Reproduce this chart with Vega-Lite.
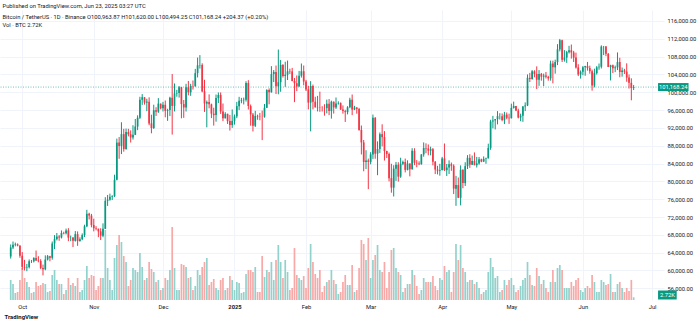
{
"$schema": "https://vega.github.io/schema/vega-lite/v6.json",
"width": 664, "height": 290,
"autosize": {"type": "none"},
"padding": {"left": 0, "top": 10, "right": 36, "bottom": 24},
"background": "#ffffff",
"config": {"view": {"stroke": null}, "font": "Roboto", "axis": {"labelOverlap": false}, "axisY": {"labelOverlap": false}, "axisRight": {"labelOverlap": false}},
"title": {"text": "Published on TradingView.com, Jun 23, 2025 03:27 UTC", "subtitle": ["Bitcoin / TetherUS · 1D · Binance O100,963.87 H101,620.00 L100,494.25 C101,168.24 +204.37 (+0.20%)", "Vol · BTC 2.72K"], "anchor": "start", "orient": "top", "offset": -18, "dx": 3, "fontSize": 5.8, "fontWeight": "normal", "color": "#131722", "subtitleFontSize": 5.8, "subtitleColor": "#131722", "subtitlePadding": 5, "subtitleLineHeight": 8, "font": "Roboto", "subtitleFont": "Roboto"},
"datasets": {"btc": [
{"d":"2024-09-26","o":63140,"h":65840,"l":62670,"c":65180,"v":20},
{"d":"2024-09-27","o":65180,"h":66500,"l":64800,"c":65770,"v":16},
{"d":"2024-09-28","o":65770,"h":66260,"l":65420,"c":65860,"v":7},
{"d":"2024-09-29","o":65860,"h":66080,"l":65420,"c":65600,"v":8},
{"d":"2024-09-30","o":65600,"h":65620,"l":62850,"c":63300,"v":20},
{"d":"2024-10-01","o":63300,"h":64130,"l":60160,"c":60800,"v":32},
{"d":"2024-10-02","o":60800,"h":62380,"l":60000,"c":60650,"v":22},
{"d":"2024-10-03","o":60650,"h":61470,"l":59830,"c":60750,"v":18},
{"d":"2024-10-04","o":60750,"h":62480,"l":60460,"c":62080,"v":13},
{"d":"2024-10-05","o":62080,"h":62370,"l":61670,"c":62060,"v":7},
{"d":"2024-10-06","o":62060,"h":62960,"l":61800,"c":62820,"v":8},
{"d":"2024-10-07","o":62820,"h":64480,"l":62130,"c":62220,"v":18},
{"d":"2024-10-08","o":62220,"h":63200,"l":61830,"c":62130,"v":14},
{"d":"2024-10-09","o":62130,"h":62540,"l":60300,"c":60580,"v":15},
{"d":"2024-10-10","o":60580,"h":61320,"l":58900,"c":60270,"v":17},
{"d":"2024-10-11","o":60270,"h":63400,"l":60050,"c":62450,"v":16},
{"d":"2024-10-12","o":62450,"h":63480,"l":62250,"c":63200,"v":8},
{"d":"2024-10-13","o":63200,"h":63290,"l":62060,"c":62850,"v":9},
{"d":"2024-10-14","o":62850,"h":66500,"l":62420,"c":66050,"v":25},
{"d":"2024-10-15","o":66050,"h":67950,"l":64800,"c":67040,"v":30},
{"d":"2024-10-16","o":67040,"h":68420,"l":66750,"c":67610,"v":20},
{"d":"2024-10-17","o":67610,"h":67940,"l":66660,"c":67400,"v":16},
{"d":"2024-10-18","o":67400,"h":68990,"l":67190,"c":68430,"v":16},
{"d":"2024-10-19","o":68430,"h":68700,"l":68110,"c":68360,"v":6},
{"d":"2024-10-20","o":68360,"h":69400,"l":68090,"c":69000,"v":10},
{"d":"2024-10-21","o":69000,"h":69500,"l":66570,"c":67370,"v":22},
{"d":"2024-10-22","o":67370,"h":67840,"l":66570,"c":67380,"v":15},
{"d":"2024-10-23","o":67380,"h":67470,"l":65260,"c":66650,"v":17},
{"d":"2024-10-24","o":66650,"h":68850,"l":66480,"c":68160,"v":14},
{"d":"2024-10-25","o":68160,"h":68770,"l":65520,"c":66640,"v":22},
{"d":"2024-10-26","o":66640,"h":67450,"l":66460,"c":67010,"v":8},
{"d":"2024-10-27","o":67010,"h":68320,"l":66800,"c":67940,"v":10},
{"d":"2024-10-28","o":67940,"h":70270,"l":67520,"c":69910,"v":20},
{"d":"2024-10-29","o":69910,"h":73620,"l":69730,"c":72720,"v":34},
{"d":"2024-10-30","o":72720,"h":72960,"l":71440,"c":72330,"v":22},
{"d":"2024-10-31","o":72330,"h":72700,"l":69690,"c":70220,"v":25},
{"d":"2024-11-01","o":70220,"h":71630,"l":68780,"c":69490,"v":24},
{"d":"2024-11-02","o":69490,"h":69950,"l":69020,"c":69370,"v":10},
{"d":"2024-11-03","o":69370,"h":69400,"l":67480,"c":68780,"v":14},
{"d":"2024-11-04","o":68780,"h":69480,"l":66840,"c":67810,"v":22},
{"d":"2024-11-05","o":67810,"h":70580,"l":67460,"c":69360,"v":22},
{"d":"2024-11-06","o":69360,"h":76460,"l":69320,"c":75640,"v":70},
{"d":"2024-11-07","o":75640,"h":76950,"l":74490,"c":75900,"v":32},
{"d":"2024-11-08","o":75900,"h":77250,"l":75660,"c":76540,"v":20},
{"d":"2024-11-09","o":76540,"h":76900,"l":75820,"c":76680,"v":10},
{"d":"2024-11-10","o":76680,"h":81500,"l":76500,"c":80370,"v":42},
{"d":"2024-11-11","o":80370,"h":89600,"l":80220,"c":88700,"v":55},
{"d":"2024-11-12","o":88700,"h":89950,"l":85070,"c":87960,"v":65},
{"d":"2024-11-13","o":87960,"h":93270,"l":86130,"c":90600,"v":58},
{"d":"2024-11-14","o":90600,"h":91800,"l":86670,"c":87250,"v":44},
{"d":"2024-11-15","o":87250,"h":91850,"l":87100,"c":91060,"v":38},
{"d":"2024-11-16","o":91060,"h":91800,"l":90100,"c":90560,"v":14},
{"d":"2024-11-17","o":90560,"h":91450,"l":88720,"c":89860,"v":20},
{"d":"2024-11-18","o":89860,"h":92600,"l":89380,"c":90460,"v":32},
{"d":"2024-11-19","o":90460,"h":94000,"l":90400,"c":92310,"v":30},
{"d":"2024-11-20","o":92310,"h":94830,"l":91500,"c":94290,"v":28},
{"d":"2024-11-21","o":94290,"h":98990,"l":94010,"c":98320,"v":47},
{"d":"2024-11-22","o":98320,"h":99590,"l":97170,"c":98890,"v":33},
{"d":"2024-11-23","o":98890,"h":98900,"l":97230,"c":97670,"v":20},
{"d":"2024-11-24","o":97670,"h":98550,"l":95750,"c":97900,"v":22},
{"d":"2024-11-25","o":97900,"h":98870,"l":92600,"c":93010,"v":38},
{"d":"2024-11-26","o":93010,"h":94970,"l":90790,"c":91970,"v":31},
{"d":"2024-11-27","o":91970,"h":97210,"l":91780,"c":95960,"v":28},
{"d":"2024-11-28","o":95960,"h":96650,"l":94680,"c":95640,"v":18},
{"d":"2024-11-29","o":95640,"h":98690,"l":95380,"c":97460,"v":20},
{"d":"2024-11-30","o":97460,"h":97460,"l":96150,"c":96410,"v":10},
{"d":"2024-12-01","o":96410,"h":97840,"l":95690,"c":97190,"v":12},
{"d":"2024-12-02","o":97190,"h":98150,"l":94390,"c":95840,"v":22},
{"d":"2024-12-03","o":95840,"h":96300,"l":93580,"c":96000,"v":20},
{"d":"2024-12-04","o":96000,"h":99000,"l":94660,"c":98770,"v":30},
{"d":"2024-12-05","o":98770,"h":104090,"l":90500,"c":96940,"v":73},
{"d":"2024-12-06","o":96940,"h":101980,"l":95700,"c":99740,"v":32},
{"d":"2024-12-07","o":99740,"h":100550,"l":99000,"c":99830,"v":10},
{"d":"2024-12-08","o":99830,"h":101400,"l":98800,"c":101110,"v":10},
{"d":"2024-12-09","o":101110,"h":101220,"l":94150,"c":97360,"v":36},
{"d":"2024-12-10","o":97360,"h":98270,"l":94260,"c":96590,"v":35},
{"d":"2024-12-11","o":96590,"h":101900,"l":95680,"c":101130,"v":33},
{"d":"2024-12-12","o":101130,"h":102540,"l":99310,"c":100000,"v":22},
{"d":"2024-12-13","o":100000,"h":101900,"l":99200,"c":101420,"v":23},
{"d":"2024-12-14","o":101420,"h":102650,"l":100610,"c":101370,"v":10},
{"d":"2024-12-15","o":101370,"h":105250,"l":101230,"c":104300,"v":14},
{"d":"2024-12-16","o":104300,"h":107790,"l":103330,"c":106060,"v":30},
{"d":"2024-12-17","o":106060,"h":108350,"l":105320,"c":106140,"v":25},
{"d":"2024-12-18","o":106140,"h":106500,"l":100000,"c":100200,"v":33},
{"d":"2024-12-19","o":100200,"h":102800,"l":95590,"c":97460,"v":38},
{"d":"2024-12-20","o":97460,"h":98150,"l":92130,"c":97800,"v":42},
{"d":"2024-12-21","o":97800,"h":99540,"l":96400,"c":97290,"v":15},
{"d":"2024-12-22","o":97290,"h":97450,"l":94200,"c":95190,"v":18},
{"d":"2024-12-23","o":95190,"h":96540,"l":92520,"c":94880,"v":21},
{"d":"2024-12-24","o":94880,"h":99500,"l":93400,"c":98700,"v":12},
{"d":"2024-12-25","o":98700,"h":99960,"l":97600,"c":99400,"v":10},
{"d":"2024-12-26","o":99400,"h":99960,"l":95140,"c":95700,"v":20},
{"d":"2024-12-27","o":95700,"h":97480,"l":93530,"c":94160,"v":22},
{"d":"2024-12-28","o":94160,"h":95530,"l":94120,"c":95160,"v":10},
{"d":"2024-12-29","o":95160,"h":95200,"l":92880,"c":93530,"v":12},
{"d":"2024-12-30","o":93530,"h":94900,"l":91400,"c":92640,"v":24},
{"d":"2024-12-31","o":92640,"h":96150,"l":92000,"c":93580,"v":20},
{"d":"2025-01-01","o":93580,"h":95000,"l":92740,"c":94590,"v":10},
{"d":"2025-01-02","o":94590,"h":97840,"l":94180,"c":96890,"v":18},
{"d":"2025-01-03","o":96890,"h":98980,"l":96000,"c":98110,"v":17},
{"d":"2025-01-04","o":98110,"h":98740,"l":97540,"c":98240,"v":7},
{"d":"2025-01-05","o":98240,"h":98810,"l":97270,"c":98310,"v":8},
{"d":"2025-01-06","o":98310,"h":102480,"l":97910,"c":102080,"v":26},
{"d":"2025-01-07","o":102080,"h":102720,"l":96130,"c":96920,"v":30},
{"d":"2025-01-08","o":96920,"h":97260,"l":92500,"c":95040,"v":30},
{"d":"2025-01-09","o":95040,"h":95350,"l":91200,"c":92480,"v":28},
{"d":"2025-01-10","o":92480,"h":95840,"l":92200,"c":94700,"v":33},
{"d":"2025-01-11","o":94700,"h":94980,"l":93830,"c":94570,"v":8},
{"d":"2025-01-12","o":94570,"h":95370,"l":93710,"c":94510,"v":8},
{"d":"2025-01-13","o":94510,"h":95890,"l":89260,"c":94500,"v":44},
{"d":"2025-01-14","o":94500,"h":97370,"l":94300,"c":96530,"v":23},
{"d":"2025-01-15","o":96530,"h":100680,"l":96500,"c":100500,"v":30},
{"d":"2025-01-16","o":100500,"h":100870,"l":97300,"c":99990,"v":28},
{"d":"2025-01-17","o":99990,"h":105860,"l":99950,"c":104080,"v":38},
{"d":"2025-01-18","o":104080,"h":104990,"l":102280,"c":104560,"v":20},
{"d":"2025-01-19","o":104560,"h":106000,"l":99600,"c":101330,"v":40},
{"d":"2025-01-20","o":101330,"h":109590,"l":99550,"c":102260,"v":55},
{"d":"2025-01-21","o":102260,"h":107240,"l":100110,"c":106140,"v":38},
{"d":"2025-01-22","o":106140,"h":106330,"l":103300,"c":103650,"v":22},
{"d":"2025-01-23","o":103650,"h":106850,"l":101220,"c":103930,"v":40},
{"d":"2025-01-24","o":103930,"h":107120,"l":102750,"c":104710,"v":28},
{"d":"2025-01-25","o":104710,"h":105290,"l":104100,"c":104690,"v":10},
{"d":"2025-01-26","o":104690,"h":105470,"l":102460,"c":102540,"v":12},
{"d":"2025-01-27","o":102540,"h":103200,"l":97780,"c":102030,"v":52},
{"d":"2025-01-28","o":102030,"h":103780,"l":100270,"c":101280,"v":25},
{"d":"2025-01-29","o":101280,"h":104800,"l":101260,"c":103730,"v":22},
{"d":"2025-01-30","o":103730,"h":106460,"l":103300,"c":104720,"v":20},
{"d":"2025-01-31","o":104720,"h":106010,"l":101560,"c":102430,"v":24},
{"d":"2025-02-01","o":102430,"h":102780,"l":100280,"c":100640,"v":12},
{"d":"2025-02-02","o":100640,"h":101460,"l":96150,"c":97690,"v":32},
{"d":"2025-02-03","o":97690,"h":102500,"l":91230,"c":101400,"v":56},
{"d":"2025-02-04","o":101400,"h":101730,"l":96150,"c":97870,"v":38},
{"d":"2025-02-05","o":97870,"h":99000,"l":96580,"c":96620,"v":26},
{"d":"2025-02-06","o":96620,"h":99190,"l":95700,"c":96550,"v":22},
{"d":"2025-02-07","o":96550,"h":100140,"l":95620,"c":96480,"v":30},
{"d":"2025-02-08","o":96480,"h":96880,"l":95690,"c":96470,"v":8},
{"d":"2025-02-09","o":96470,"h":97320,"l":94750,"c":96450,"v":14},
{"d":"2025-02-10","o":96450,"h":98350,"l":95260,"c":97430,"v":18},
{"d":"2025-02-11","o":97430,"h":98480,"l":94880,"c":95780,"v":20},
{"d":"2025-02-12","o":95780,"h":98120,"l":94090,"c":97870,"v":30},
{"d":"2025-02-13","o":97870,"h":97950,"l":95220,"c":96610,"v":20},
{"d":"2025-02-14","o":96610,"h":98830,"l":96260,"c":97500,"v":16},
{"d":"2025-02-15","o":97500,"h":97970,"l":97230,"c":97570,"v":6},
{"d":"2025-02-16","o":97570,"h":97730,"l":96050,"c":96120,"v":8},
{"d":"2025-02-17","o":96120,"h":97050,"l":95200,"c":95770,"v":18},
{"d":"2025-02-18","o":95770,"h":96070,"l":93340,"c":95540,"v":25},
{"d":"2025-02-19","o":95540,"h":96890,"l":95040,"c":96630,"v":15},
{"d":"2025-02-20","o":96630,"h":98770,"l":96410,"c":98330,"v":15},
{"d":"2025-02-21","o":98330,"h":99500,"l":94870,"c":96120,"v":35},
{"d":"2025-02-22","o":96120,"h":96960,"l":95990,"c":96580,"v":8},
{"d":"2025-02-23","o":96580,"h":96670,"l":95200,"c":96260,"v":10},
{"d":"2025-02-24","o":96260,"h":96500,"l":91370,"c":91550,"v":32},
{"d":"2025-02-25","o":91550,"h":92540,"l":86050,"c":88740,"v":60},
{"d":"2025-02-26","o":88740,"h":89290,"l":82260,"c":84350,"v":56},
{"d":"2025-02-27","o":84350,"h":87000,"l":82780,"c":84700,"v":40},
{"d":"2025-02-28","o":84700,"h":85120,"l":78260,"c":84370,"v":62},
{"d":"2025-03-01","o":84370,"h":86560,"l":83830,"c":86060,"v":22},
{"d":"2025-03-02","o":86060,"h":95000,"l":85050,"c":94270,"v":40},
{"d":"2025-03-03","o":94270,"h":94430,"l":85080,"c":86220,"v":45},
{"d":"2025-03-04","o":86220,"h":88970,"l":81390,"c":87280,"v":55},
{"d":"2025-03-05","o":87280,"h":90980,"l":86380,"c":90600,"v":30},
{"d":"2025-03-06","o":90600,"h":92810,"l":87850,"c":89930,"v":28},
{"d":"2025-03-07","o":89930,"h":91280,"l":84670,"c":86800,"v":38},
{"d":"2025-03-08","o":86800,"h":86880,"l":85250,"c":86150,"v":12},
{"d":"2025-03-09","o":86150,"h":86470,"l":80000,"c":80730,"v":28},
{"d":"2025-03-10","o":80730,"h":83960,"l":77460,"c":78600,"v":50},
{"d":"2025-03-11","o":78600,"h":83620,"l":76610,"c":82860,"v":52},
{"d":"2025-03-12","o":82860,"h":84360,"l":80100,"c":83720,"v":32},
{"d":"2025-03-13","o":83720,"h":84300,"l":79940,"c":81070,"v":28},
{"d":"2025-03-14","o":81070,"h":85310,"l":80800,"c":83970,"v":25},
{"d":"2025-03-15","o":83970,"h":84670,"l":83630,"c":84340,"v":8},
{"d":"2025-03-16","o":84340,"h":85120,"l":82020,"c":82580,"v":12},
{"d":"2025-03-17","o":82580,"h":84730,"l":82460,"c":84010,"v":16},
{"d":"2025-03-18","o":84010,"h":84030,"l":81130,"c":82720,"v":16},
{"d":"2025-03-19","o":82720,"h":87450,"l":82630,"c":86850,"v":30},
{"d":"2025-03-20","o":86850,"h":87440,"l":83650,"c":84170,"v":25},
{"d":"2025-03-21","o":84170,"h":84780,"l":83170,"c":84040,"v":14},
{"d":"2025-03-22","o":84040,"h":84510,"l":83650,"c":83830,"v":6},
{"d":"2025-03-23","o":83830,"h":86100,"l":83790,"c":86050,"v":10},
{"d":"2025-03-24","o":86050,"h":88750,"l":85540,"c":87500,"v":22},
{"d":"2025-03-25","o":87500,"h":88540,"l":86310,"c":87390,"v":18},
{"d":"2025-03-26","o":87390,"h":88290,"l":85860,"c":86900,"v":18},
{"d":"2025-03-27","o":86900,"h":87790,"l":85840,"c":87230,"v":18},
{"d":"2025-03-28","o":87230,"h":87500,"l":83600,"c":84420,"v":24},
{"d":"2025-03-29","o":84420,"h":84560,"l":81640,"c":82650,"v":14},
{"d":"2025-03-30","o":82650,"h":83500,"l":81570,"c":82390,"v":10},
{"d":"2025-03-31","o":82390,"h":83940,"l":81280,"c":82550,"v":22},
{"d":"2025-04-01","o":82550,"h":85490,"l":82430,"c":85160,"v":20},
{"d":"2025-04-02","o":85160,"h":88500,"l":82320,"c":82520,"v":34},
{"d":"2025-04-03","o":82520,"h":83900,"l":81210,"c":83100,"v":28},
{"d":"2025-04-04","o":83100,"h":84720,"l":81660,"c":83840,"v":30},
{"d":"2025-04-05","o":83840,"h":84230,"l":82370,"c":83500,"v":8},
{"d":"2025-04-06","o":83500,"h":83820,"l":77150,"c":78370,"v":28},
{"d":"2025-04-07","o":78370,"h":81240,"l":74510,"c":79160,"v":56},
{"d":"2025-04-08","o":79160,"h":80870,"l":76240,"c":76320,"v":40},
{"d":"2025-04-09","o":76320,"h":83590,"l":74620,"c":82610,"v":55},
{"d":"2025-04-10","o":82610,"h":82700,"l":78460,"c":79610,"v":32},
{"d":"2025-04-11","o":79610,"h":84300,"l":78970,"c":83420,"v":28},
{"d":"2025-04-12","o":83420,"h":85900,"l":82770,"c":85280,"v":18},
{"d":"2025-04-13","o":85280,"h":86100,"l":83030,"c":83760,"v":20},
{"d":"2025-04-14","o":83760,"h":85800,"l":83680,"c":84590,"v":20},
{"d":"2025-04-15","o":84590,"h":86500,"l":83600,"c":83640,"v":16},
{"d":"2025-04-16","o":83640,"h":85500,"l":83110,"c":84030,"v":18},
{"d":"2025-04-17","o":84030,"h":85470,"l":83740,"c":84950,"v":12},
{"d":"2025-04-18","o":84950,"h":85100,"l":84300,"c":84450,"v":6},
{"d":"2025-04-19","o":84450,"h":85600,"l":84340,"c":85060,"v":8},
{"d":"2025-04-20","o":85060,"h":85320,"l":83950,"c":85170,"v":10},
{"d":"2025-04-21","o":85170,"h":88460,"l":85140,"c":87520,"v":28},
{"d":"2025-04-22","o":87520,"h":93820,"l":87080,"c":93440,"v":42},
{"d":"2025-04-23","o":93440,"h":94700,"l":91900,"c":93690,"v":33},
{"d":"2025-04-24","o":93690,"h":94000,"l":91660,"c":93980,"v":22},
{"d":"2025-04-25","o":93980,"h":95770,"l":92800,"c":94640,"v":24},
{"d":"2025-04-26","o":94640,"h":95300,"l":93880,"c":94640,"v":8},
{"d":"2025-04-27","o":94640,"h":95250,"l":93500,"c":93750,"v":10},
{"d":"2025-04-28","o":93750,"h":95600,"l":92860,"c":94980,"v":20},
{"d":"2025-04-29","o":94980,"h":95460,"l":93930,"c":94280,"v":15},
{"d":"2025-04-30","o":94280,"h":95200,"l":92910,"c":94170,"v":20},
{"d":"2025-05-01","o":94170,"h":97440,"l":94130,"c":96490,"v":22},
{"d":"2025-05-02","o":96490,"h":97900,"l":96340,"c":96910,"v":15},
{"d":"2025-05-03","o":96910,"h":96950,"l":95760,"c":95890,"v":8},
{"d":"2025-05-04","o":95890,"h":96320,"l":94130,"c":94320,"v":10},
{"d":"2025-05-05","o":94320,"h":95200,"l":93510,"c":94750,"v":14},
{"d":"2025-05-06","o":94750,"h":96900,"l":93370,"c":96830,"v":20},
{"d":"2025-05-07","o":96830,"h":97730,"l":95800,"c":97030,"v":22},
{"d":"2025-05-08","o":97030,"h":104000,"l":96900,"c":103240,"v":38},
{"d":"2025-05-09","o":103240,"h":104360,"l":102300,"c":102970,"v":25},
{"d":"2025-05-10","o":102970,"h":104980,"l":102820,"c":104700,"v":15},
{"d":"2025-05-11","o":104700,"h":104940,"l":103350,"c":104120,"v":14},
{"d":"2025-05-12","o":104120,"h":105820,"l":100720,"c":102810,"v":32},
{"d":"2025-05-13","o":102810,"h":104980,"l":101440,"c":104130,"v":24},
{"d":"2025-05-14","o":104130,"h":104330,"l":102600,"c":103510,"v":16},
{"d":"2025-05-15","o":103510,"h":104190,"l":101380,"c":103750,"v":20},
{"d":"2025-05-16","o":103750,"h":104550,"l":103100,"c":103460,"v":12},
{"d":"2025-05-17","o":103460,"h":103700,"l":102600,"c":103130,"v":8},
{"d":"2025-05-18","o":103130,"h":107110,"l":102610,"c":106450,"v":18},
{"d":"2025-05-19","o":106450,"h":107100,"l":102000,"c":105600,"v":30},
{"d":"2025-05-20","o":105600,"h":107320,"l":104180,"c":106790,"v":18},
{"d":"2025-05-21","o":106790,"h":110800,"l":106100,"c":109640,"v":32},
{"d":"2025-05-22","o":109640,"h":111980,"l":109180,"c":111700,"v":35},
{"d":"2025-05-23","o":111700,"h":111800,"l":106800,"c":107290,"v":30},
{"d":"2025-05-24","o":107290,"h":109460,"l":106880,"c":107790,"v":12},
{"d":"2025-05-25","o":107790,"h":109300,"l":106600,"c":109010,"v":12},
{"d":"2025-05-26","o":109010,"h":110420,"l":108700,"c":109430,"v":12},
{"d":"2025-05-27","o":109430,"h":110720,"l":107550,"c":108940,"v":18},
{"d":"2025-05-28","o":108940,"h":109300,"l":106800,"c":107780,"v":14},
{"d":"2025-05-29","o":107780,"h":108900,"l":105320,"c":105590,"v":20},
{"d":"2025-05-30","o":105590,"h":106300,"l":103630,"c":103990,"v":22},
{"d":"2025-05-31","o":103990,"h":104900,"l":103070,"c":104590,"v":10},
{"d":"2025-06-01","o":104590,"h":105880,"l":103820,"c":105640,"v":8},
{"d":"2025-06-02","o":105640,"h":105940,"l":103700,"c":105880,"v":12},
{"d":"2025-06-03","o":105880,"h":106810,"l":104870,"c":105430,"v":14},
{"d":"2025-06-04","o":105430,"h":105970,"l":104170,"c":104730,"v":12},
{"d":"2025-06-05","o":104730,"h":105090,"l":100370,"c":101510,"v":25},
{"d":"2025-06-06","o":101510,"h":105300,"l":101100,"c":104290,"v":18},
{"d":"2025-06-07","o":104290,"h":105880,"l":103970,"c":105600,"v":8},
{"d":"2025-06-08","o":105600,"h":106460,"l":105060,"c":105730,"v":8},
{"d":"2025-06-09","o":105730,"h":110530,"l":105340,"c":110260,"v":20},
{"d":"2025-06-10","o":110260,"h":110400,"l":108350,"c":110270,"v":18},
{"d":"2025-06-11","o":110270,"h":110380,"l":108090,"c":108640,"v":15},
{"d":"2025-06-12","o":108640,"h":108800,"l":105670,"c":105670,"v":16},
{"d":"2025-06-13","o":105670,"h":106180,"l":102660,"c":106070,"v":26},
{"d":"2025-06-14","o":106070,"h":106220,"l":104300,"c":105410,"v":8},
{"d":"2025-06-15","o":105410,"h":105990,"l":104520,"c":105590,"v":8},
{"d":"2025-06-16","o":105590,"h":108950,"l":104990,"c":106790,"v":16},
{"d":"2025-06-17","o":106790,"h":107750,"l":103370,"c":104550,"v":18},
{"d":"2025-06-18","o":104550,"h":105560,"l":103500,"c":104880,"v":12},
{"d":"2025-06-19","o":104880,"h":105260,"l":104100,"c":104640,"v":8},
{"d":"2025-06-20","o":104640,"h":106500,"l":102350,"c":103300,"v":12},
{"d":"2025-06-21","o":103300,"h":104000,"l":100840,"c":102120,"v":9},
{"d":"2025-06-22","o":102120,"h":103130,"l":98200,"c":100960,"v":20},
{"d":"2025-06-23","o":100963.87,"h":101620,"l":100494.25,"c":101168.24,"v":2.72}
],
"last": [{"price": 101168.24, "plabel": "101,168.24", "vol": 2.72, "vlabel": "2.72K"}]
},
"resolve": {"scale": {"y": "independent"}},
"layer": [
{
"layer": [
{
"data": {"name": "btc"},
"mark": {"type": "bar", "width": 1.7},
"encoding": {
"x": {"field": "d", "type": "temporal", "scale": {"type": "utc", "domain": [{"year": 2024, "month": 9, "date": 23, "hours": 12, "minutes": 43, "utc": true}, {"year": 2025, "month": 7, "date": 3, "hours": 23, "minutes": 50, "utc": true}]},
"axis": {"orient": "bottom", "tickCount": {"interval": "month", "step": 1}, "grid": true, "gridColor": "#f0f3fa", "gridWidth": 1, "domain": false, "ticks": false, "labelPadding": 3, "labelFontSize": 5.8, "labelColor": "#131722", "labelFont": "Roboto", "labelFlush": false, "labelOverlap": false, "labelExpr": "utcFormat(datum.value,'%m')=='01' ? utcFormat(datum.value,'%Y') : utcFormat(datum.value,'%b')", "labelFontWeight": {"condition": {"test": "utcFormat(datum.value,'%m')=='01'", "value": "bold"}, "value": "normal"}, "title": "TradingView", "titleAnchor": "start", "titleAlign": "left", "titleFontSize": 6, "titleFontWeight": "bold", "titleColor": "#131722", "titleFont": "Roboto", "titlePadding": 5, "titleX": 4}},
"y": {"field": "v", "type": "quantitative", "scale": {"domain": [0, 290], "nice": false, "zero": true}, "axis": null},
"color": {"condition": {"test": "datum.c >= datum.o", "value": "#92d2cc"}, "value": "#f7a9a7"}
}
},
{
"data": {"name": "last"},
"mark": {"type": "rect", "color": "#089981"},
"encoding": {
"x": {"datum": {"year": 2025, "month": 7, "date": 3, "hours": 14, "utc": true}, "type": "temporal", "scale": {"type": "utc"}},
"x2": {"datum": {"year": 2025, "month": 7, "date": 11, "hours": 16, "utc": true}},
"y": {"datum": 0.5, "type": "quantitative", "axis": null},
"y2": {"datum": 9.5}
}
},
{
"data": {"name": "last"},
"mark": {"type": "text", "color": "#ffffff", "fontSize": 5.8, "font": "Roboto", "align": "center", "baseline": "middle"},
"encoding": {
"x": {"datum": {"year": 2025, "month": 7, "date": 7, "hours": 15, "utc": true}, "type": "temporal", "scale": {"type": "utc"}},
"y": {"datum": 5, "type": "quantitative", "axis": null},
"text": {"field": "vlabel"}
}
}
]
},
{
"layer": [
{
"data": {"name": "last"},
"mark": {"type": "rule", "color": "#089981", "strokeDash": [1, 1.5], "strokeWidth": 1, "opacity": 0.6},
"encoding": {
"y": {"field": "price", "type": "quantitative", "scale": {"domain": [53374, 118469], "nice": false, "zero": false},
"axis": {"orient": "right", "values": [56000, 60000, 64000, 68000, 72000, 76000, 80000, 84000, 88000, 92000, 96000, 100000, 104000, 108000, 112000, 116000], "format": ",.2f", "grid": true, "gridColor": "#f0f3fa", "domain": false, "ticks": false, "labelPadding": 3, "labelFontSize": 5.8, "labelColor": "#131722", "labelFont": "Roboto", "labelOverlap": false, "labelBaseline": "middle", "title": null}}
}
},
{
"data": {"name": "btc"},
"mark": {"type": "rule", "strokeWidth": 1},
"encoding": {
"x": {"field": "d", "type": "temporal", "scale": {"type": "utc"}},
"y": {"field": "l", "type": "quantitative", "axis": {"orient": "right", "values": [56000, 60000, 64000, 68000, 72000, 76000, 80000, 84000, 88000, 92000, 96000, 100000, 104000, 108000, 112000, 116000], "format": ",.2f", "grid": true, "gridColor": "#f0f3fa", "domain": false, "ticks": false, "labelPadding": 3, "labelFontSize": 5.8, "labelColor": "#131722", "labelFont": "Roboto", "labelOverlap": false, "labelBaseline": "middle", "title": null}},
"y2": {"field": "h"},
"color": {"condition": {"test": "datum.c >= datum.o", "value": "#089981"}, "value": "#f23645"}
}
},
{
"data": {"name": "btc"},
"mark": {"type": "bar", "width": 1.7},
"encoding": {
"x": {"field": "d", "type": "temporal", "scale": {"type": "utc"}},
"y": {"field": "o", "type": "quantitative", "axis": {"orient": "right", "values": [56000, 60000, 64000, 68000, 72000, 76000, 80000, 84000, 88000, 92000, 96000, 100000, 104000, 108000, 112000, 116000], "format": ",.2f", "grid": true, "gridColor": "#f0f3fa", "domain": false, "ticks": false, "labelPadding": 3, "labelFontSize": 5.8, "labelColor": "#131722", "labelFont": "Roboto", "labelOverlap": false, "labelBaseline": "middle", "title": null}},
"y2": {"field": "c"},
"color": {"condition": {"test": "datum.c >= datum.o", "value": "#089981"}, "value": "#f23645"}
}
},
{
"data": {"name": "last"},
"mark": {"type": "rect", "color": "#089981"},
"encoding": {
"x": {"datum": {"year": 2025, "month": 7, "date": 3, "hours": 14, "utc": true}, "type": "temporal", "scale": {"type": "utc"}},
"x2": {"datum": {"year": 2025, "month": 7, "date": 16, "hours": 19, "utc": true}},
"y": {"datum": 100270, "type": "quantitative", "axis": {"orient": "right", "values": [56000, 60000, 64000, 68000, 72000, 76000, 80000, 84000, 88000, 92000, 96000, 100000, 104000, 108000, 112000, 116000], "format": ",.2f", "grid": true, "gridColor": "#f0f3fa", "domain": false, "ticks": false, "labelPadding": 3, "labelFontSize": 5.8, "labelColor": "#131722", "labelFont": "Roboto", "labelOverlap": false, "labelBaseline": "middle", "title": null}},
"y2": {"datum": 102070}
}
},
{
"data": {"name": "last"},
"mark": {"type": "text", "color": "#ffffff", "fontSize": 5.8, "font": "Roboto", "align": "center", "baseline": "middle"},
"encoding": {
"x": {"datum": {"year": 2025, "month": 7, "date": 10, "hours": 4, "utc": true}, "type": "temporal", "scale": {"type": "utc"}},
"y": {"field": "price", "type": "quantitative", "axis": {"orient": "right", "values": [56000, 60000, 64000, 68000, 72000, 76000, 80000, 84000, 88000, 92000, 96000, 100000, 104000, 108000, 112000, 116000], "format": ",.2f", "grid": true, "gridColor": "#f0f3fa", "domain": false, "ticks": false, "labelPadding": 3, "labelFontSize": 5.8, "labelColor": "#131722", "labelFont": "Roboto", "labelOverlap": false, "labelBaseline": "middle", "title": null}},
"text": {"field": "plabel"}
}
}
]
}
]
}
